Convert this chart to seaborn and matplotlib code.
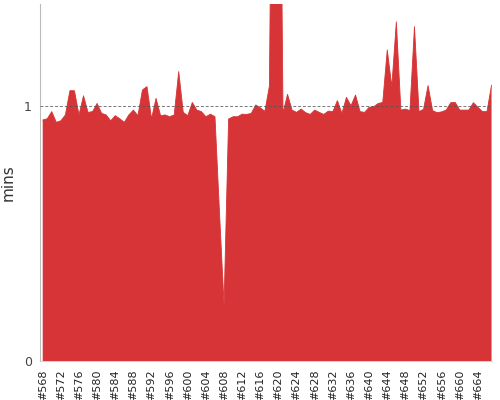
import numpy as np
import matplotlib
matplotlib.use('Agg')
import matplotlib.pyplot as plt
import seaborn as sns

# build numbers and build duration (minutes)
builds = list(range(568, 668))
mins = [0.945, 0.95, 0.978, 0.936, 0.942, 0.965, 1.06, 1.06, 0.965, 1.04,
        0.975, 0.978, 1.01, 0.971, 0.965, 0.942, 0.962, 0.95, 0.936, 0.965,
        0.984, 0.962, 1.063, 1.076, 0.95, 1.03, 0.962, 0.965, 0.958, 0.965,
        1.135, 0.975, 0.962, 1.014, 0.984, 0.978, 0.958, 0.968, 0.958, 0.58,
        0.22, 0.949, 0.958, 0.958, 0.968, 0.967, 0.971, 1.004, 0.993, 0.979,
        1.078, 3.0, 3.0, 0.971, 1.046, 0.984, 0.975, 0.988, 0.974, 0.967,
        0.984, 0.975, 0.967, 0.98, 0.978, 1.021, 0.971, 1.034, 1.001, 1.043,
        0.978, 0.975, 0.995, 0.997, 1.01, 1.014, 1.22, 1.076, 1.33, 0.984,
        0.988, 0.982, 1.311, 0.978, 0.987, 1.08, 0.982, 0.974, 0.977, 0.984,
        1.013, 1.014, 0.984, 0.984, 0.984, 1.013, 0.995, 0.978, 0.978, 1.082]
label_builds = builds[::4][:25]

red = '#d63436'

sns.set_style('white')
fig = plt.figure(figsize=(5, 4), dpi=100)
ax = fig.add_axes([0.08, 0.0975, 0.904, 0.8925])

# area + outline
ax.fill_between(builds, 0, mins, color=red, lw=0, zorder=2)
sns.lineplot(x=builds, y=mins, color=red, lw=0.6, ax=ax, zorder=3)

# dashed reference line at 1 minute
ax.axhline(1, color='#555555', ls=(0, (3, 2)), lw=0.7, alpha=0.8, zorder=4)

ax.set_xlim(builds[0] - 0.6, builds[-1] + 0.1)
ax.set_ylim(0, 1.4)

ax.set_yticks([0, 1])
ax.set_yticklabels(['0', '1'], fontsize=9, color='#444444')
ax.set_xticks(label_builds)
ax.set_xticklabels([f'#{b}' for b in label_builds], rotation=90, fontsize=8, color='#222222')
ax.set_xticks(builds, minor=True)
ax.tick_params(axis='x', which='major', length=3, width=0.6, color='#999999', pad=3)
ax.tick_params(axis='x', which='minor', length=2, width=0.5, color='#aaaaaa')
ax.tick_params(axis='y', length=3, width=0.6, color='#999999', pad=3)

ax.set_ylabel('mins', fontsize=11, color='#333333', labelpad=6)
ax.set_xlabel('')

for s in ['top', 'right']:
    ax.spines[s].set_visible(False)
ax.spines['left'].set_color('#bbbbbb')
ax.spines['bottom'].set_color('#cccccc')
ax.spines['left'].set_linewidth(0.8)
ax.spines['bottom'].set_linewidth(0.6)

plt.savefig('out.png', dpi=100)
